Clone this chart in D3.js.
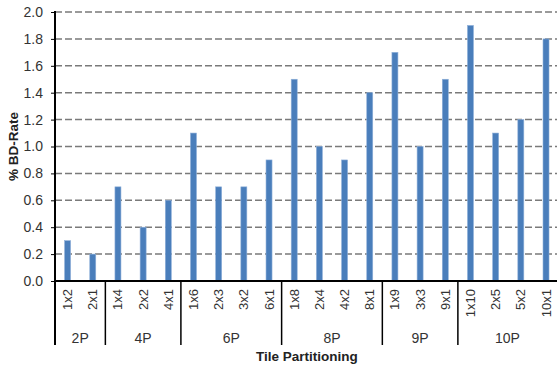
<!DOCTYPE html>
<html>
<head>
<meta charset="utf-8">
<script src="https://cdn.jsdelivr.net/npm/d3@7"></script>
<style>
  html, body { margin: 0; padding: 0; background: #fff; }
  svg { display: block; font-family: "Liberation Sans", Arial, sans-serif; }
</style>
</head>
<body>
<svg id="chart" width="557" height="365"></svg>
<script>
// Tile partitions, grouped by the number of tiles
const groups = ["2P", "4P", "6P", "8P", "9P", "10P"];
const groupSizes = [2, 3, 4, 4, 3, 4];
const categories = [
  "1x2", "2x1",
  "1x4", "2x2", "4x1",
  "1x6", "2x3", "3x2", "6x1",
  "1x8", "2x4", "4x2", "8x1",
  "1x9", "3x3", "9x1",
  "1x10", "2x5", "5x2", "10x1"
];
const bdRate = [
  0.3, 0.2,
  0.7, 0.4, 0.6,
  1.1, 0.7, 0.7, 0.9,
  1.5, 1.0, 0.9, 1.4,
  1.7, 1.0, 1.5,
  1.9, 1.1, 1.2, 1.8
];
const yTicks = [0.0, 0.2, 0.4, 0.6, 0.8, 1.0, 1.2, 1.4, 1.6, 1.8, 2.0];

const svg = d3.select("#chart");
const plotLeft = 55, plotRight = 558.6, plotTop = 12, plotBottom = 281;

const x = d3.scaleBand().domain(categories).range([plotLeft, plotRight]);
const y = d3.scaleLinear().domain([0, 2]).range([plotBottom, plotTop]);

// Dashed horizontal gridlines
svg.append("g")
  .selectAll("line")
  .data(yTicks.filter(d => d > 0))
  .join("line")
  .attr("x1", plotLeft).attr("x2", plotRight)
  .attr("y1", d => y(d)).attr("y2", d => y(d))
  .attr("stroke", "#7a7a7a")
  .attr("stroke-width", 1.5)
  .attr("stroke-dasharray", "7,3");

// Bars
const barW = 6;
svg.append("g")
  .selectAll("rect")
  .data(categories)
  .join("rect")
  .attr("x", d => x(d) + x.bandwidth() / 2 - barW / 2)
  .attr("width", barW)
  .attr("y", (d, i) => y(bdRate[i]))
  .attr("height", (d, i) => y(0) - y(bdRate[i]))
  .attr("fill", "#4a7ebb")
  .attr("stroke", "#8fb0d9")
  .attr("stroke-width", 0.6);

// Y axis
const yAxis = d3.axisLeft(y)
  .tickValues(yTicks)
  .tickFormat(d3.format(".1f"))
  .tickSize(4)
  .tickPadding(8);
const gy = svg.append("g").attr("transform", `translate(${plotLeft},0)`).call(yAxis);
gy.select(".domain").remove();
gy.selectAll(".tick line").attr("stroke", "#000").attr("stroke-width", 1);
gy.selectAll(".tick text")
  .attr("fill", "#333")
  .style("font-size", "14px")
  .style("font-family", "'Liberation Sans', Arial, sans-serif");

// Vertical axis line, continuing down through the category rows
svg.append("line")
  .attr("x1", plotLeft).attr("x2", plotLeft)
  .attr("y1", plotTop - 1).attr("y2", 345)
  .attr("stroke", "#000").attr("stroke-width", 2);

// Category labels (rotated)
svg.append("g")
  .selectAll("text")
  .data(categories)
  .join("text")
  .attr("transform", d => `translate(${x(d) + x.bandwidth() / 2 + 4.5},${289}) rotate(-90)`)
  .attr("text-anchor", "end")
  .attr("fill", "#333")
  .style("font-size", "13px")
  .text(d => d);

// Group separators and group labels
let start = 0;
const sepG = svg.append("g");
groups.forEach((g, gi) => {
  const first = categories[start];
  const last = categories[start + groupSizes[gi] - 1];
  const x0 = x(first);
  const x1 = x(last) + x.bandwidth();
  if (gi < groups.length - 1) {
    sepG.append("line")
      .attr("x1", x1).attr("x2", x1)
      .attr("y1", plotBottom).attr("y2", 345)
      .attr("stroke", "#000").attr("stroke-width", 1.5);
  }
  sepG.append("text")
    .attr("x", (x0 + Math.min(x1, 557)) / 2)
    .attr("y", 343)
    .attr("text-anchor", "middle")
    .attr("fill", "#333")
    .style("font-size", "14px")
    .text(g);
  start += groupSizes[gi];
});

// X axis baseline
svg.append("line")
  .attr("x1", plotLeft - 1).attr("x2", plotRight)
  .attr("y1", plotBottom).attr("y2", plotBottom)
  .attr("stroke", "#000").attr("stroke-width", 2.2);

// Axis titles
svg.append("text")
  .attr("x", (plotLeft + plotRight) / 2)
  .attr("y", 361)
  .attr("text-anchor", "middle")
  .attr("fill", "#222")
  .style("font-size", "13.5px")
  .style("font-weight", "bold")
  .text("Tile Partitioning");

svg.append("text")
  .attr("transform", `translate(18,${(plotTop + plotBottom) / 2}) rotate(-90)`)
  .attr("text-anchor", "middle")
  .attr("fill", "#222")
  .style("font-size", "13.5px")
  .style("font-weight", "bold")
  .text("% BD-Rate");
</script>
</body>
</html>
